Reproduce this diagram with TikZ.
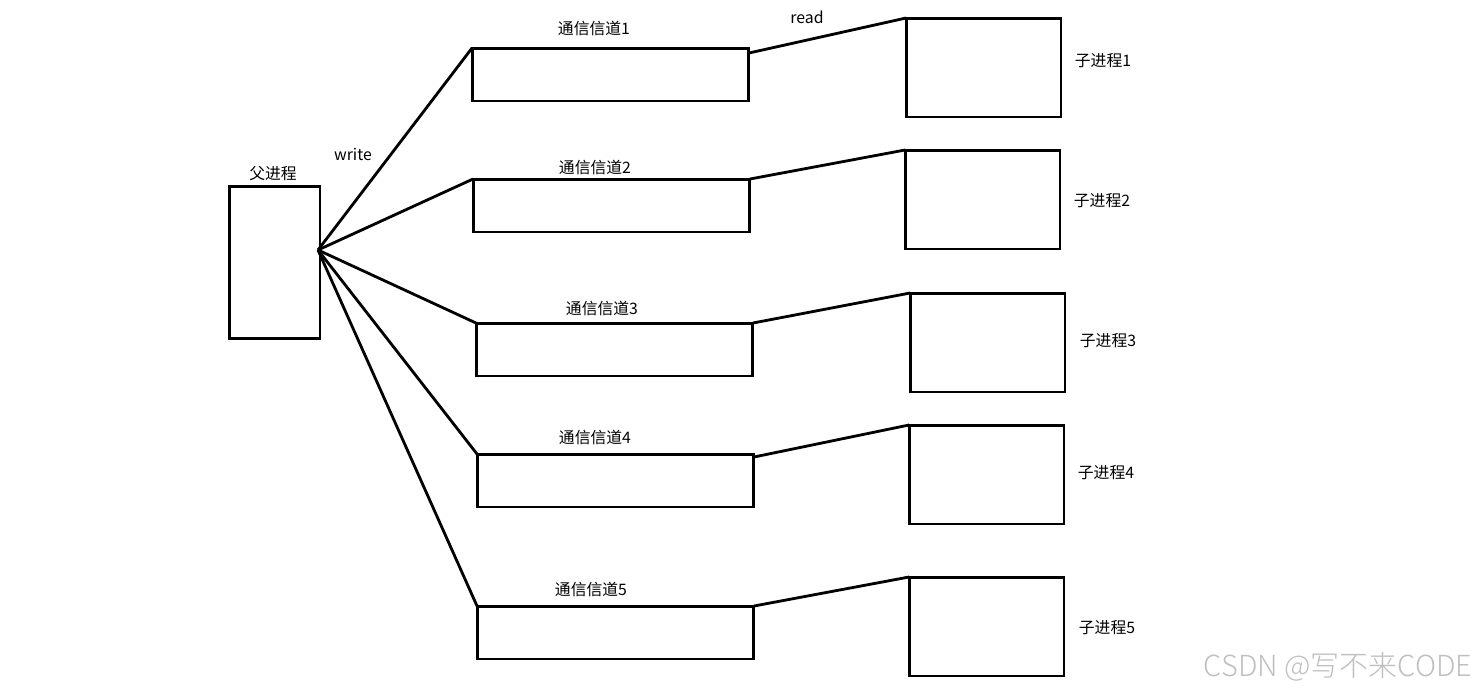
\documentclass[tikz,border=0pt]{standalone}
\usepackage{fontspec}
\setmainfont{Noto Sans CJK SC}
\newfontfamily\wmfont{Noto Sans CJK SC Light}

\tikzset{
  box/.style={draw, line width=1.7pt, inner sep=0pt, outer sep=0pt},
  chan/.style={box, minimum width=5.54cm, minimum height=1.06cm},
  proc/.style={box, minimum width=3.1cm, minimum height=1.98cm},
  wire/.style={line width=1.6pt},
  lbl/.style={font=\fontsize{9}{10}\selectfont, inner sep=0pt}
}

\begin{document}
\begin{tikzpicture}[x=0.02cm, y=-0.02cm]
  \useasboundingbox (0,0) rectangle (1475,694);
  % parent process
  \node[box, minimum width=1.82cm, minimum height=3.06cm] (par) at (274.5,262.5) {};
  \node[lbl] (parl) at (273,174) {父进程};
  \coordinate (jn) at (318,250);
  % channels
  \node[chan] (c1) at (610.5,74.5) {};
  \node[chan] (c2) at (611.5,205.5) {};
  \node[chan] (c3) at (614.5,349.5) {};
  \node[chan] (c4) at (615.5,480.5) {};
  \node[chan] (c5) at (615.5,632.5) {};
  \node[lbl] (c1l) at (594,28) {通信信道1};
  \node[lbl] (c2l) at (595,167) {通信信道2};
  \node[lbl] (c3l) at (602,308) {通信信道3};
  \node[lbl] (c4l) at (595,437) {通信信道4};
  \node[lbl] (c5l) at (591,589) {通信信道5};
  % child processes
  \node[proc] (p1) at (983.5,67.5) {};
  \node[proc] (p2) at (982.5,199.5) {};
  \node[proc] (p3) at (987.5,342.5) {};
  \node[proc] (p4) at (986.5,474.5) {};
  \node[proc] (p5) at (986.5,626.5) {};
  \node[lbl] (p1l) at (1103,61) {子进程1};
  \node[lbl] (p2l) at (1102,201) {子进程2};
  \node[lbl] (p3l) at (1108,341) {子进程3};
  \node[lbl] (p4l) at (1106,473) {子进程4};
  \node[lbl] (p5l) at (1107,628) {子进程5};
  % write / read
  \node[lbl] (wr) at (353,154) {write};
  \node[lbl] (rd) at (807,17) {read};
  \draw[wire] (jn) -- (c1.north west);
  \draw[wire] (jn) -- (c2.north west);
  \draw[wire] (jn) -- (c3.north west);
  \draw[wire] (jn) -- (c4.north west);
  \draw[wire] (jn) -- (c5.north west);
  \draw[wire] ([yshift=-0.1cm]c1.north east) -- (p1.north west);
  \draw[wire] (c2.north east) -- (p2.north west);
  \draw[wire] (c3.north east) -- (p3.north west);
  \draw[wire] ([yshift=-0.06cm]c4.north east) -- (p4.north west);
  \draw[wire] (c5.north east) -- (p5.north west);
  % watermark
  \node[font=\wmfont\fontsize{16.5}{18}\selectfont, text=black!25, inner sep=0pt] (wm) at (1338,667) {CSDN @写不来CODE};
\end{tikzpicture}
\end{document}
